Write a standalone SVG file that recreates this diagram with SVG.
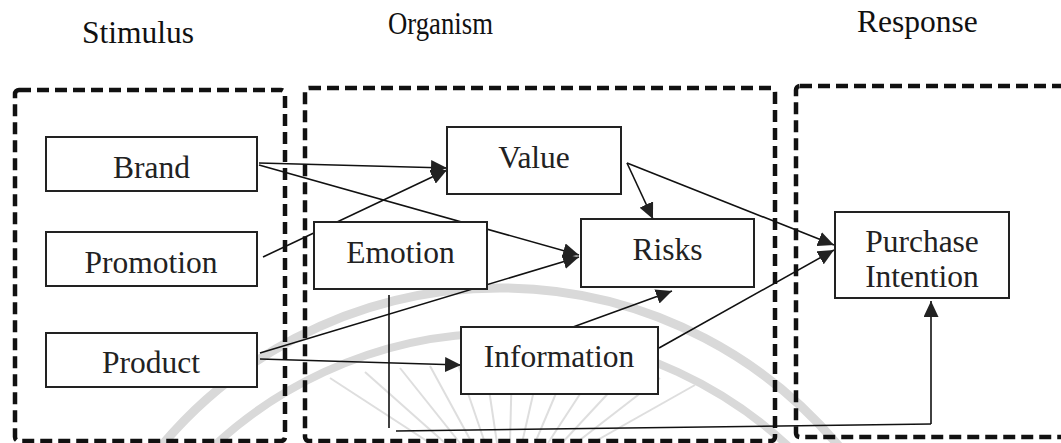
<svg xmlns="http://www.w3.org/2000/svg" width="1061" height="443" viewBox="0 0 1061 443">
  <style>
    .lbl { font-family: "Liberation Serif", "Times New Roman", serif; font-size: 31.5px; fill: #222; }
    .hdr { font-family: "Liberation Serif", "Times New Roman", serif; font-size: 31.5px; fill: #111; }
    .stage { fill: none; stroke: #111; stroke-width: 4.5; stroke-dasharray: 12 6; }
    .node rect { fill: #fff; stroke: #222; stroke-width: 2; }
    .conn line { stroke: #111; stroke-width: 1.6; fill: none; }
    .arr { marker-end: url(#ah); }
    .wm { fill: none; stroke: #d9d9d9; }
  </style>
  <defs>
    <marker id="ah" markerWidth="17" markerHeight="15" refX="16" refY="7.5" orient="auto" markerUnits="userSpaceOnUse">
      <path d="M0,0 L16,7.5 L0,15 z" fill="#222"/>
    </marker>
  </defs>

  <rect width="1061" height="443" fill="#fff"/>

  <!-- faint background emblem -->
  <g id="emblem">
    <path class="wm" stroke-width="9" d="M 150 460 A 442 442 0 0 1 850 460"/>
    <path class="wm" stroke-width="8" d="M 190 470 A 422 422 0 0 1 812 470"/>
    <g stroke="#dedede" stroke-width="2">
      <line x1="330" y1="378" x2="430" y2="443"/>
      <line x1="365" y1="372" x2="445" y2="443"/>
      <line x1="400" y1="368" x2="460" y2="443"/>
      <line x1="430" y1="366" x2="472" y2="443"/>
      <line x1="458" y1="364" x2="485" y2="443"/>
      <line x1="485" y1="363" x2="497" y2="443"/>
      <line x1="512" y1="363" x2="510" y2="443"/>
      <line x1="540" y1="364" x2="522" y2="443"/>
      <line x1="568" y1="365" x2="535" y2="443"/>
      <line x1="597" y1="368" x2="548" y2="443"/>
      <line x1="628" y1="372" x2="562" y2="443"/>
      <line x1="660" y1="378" x2="576" y2="443"/>
      <line x1="695" y1="385" x2="592" y2="443"/>
    </g>
  </g>

  <!-- stage headings -->
  <g id="headings">
    <text class="hdr" x="82" y="43">Stimulus</text>
    <text class="hdr" x="388" y="34" font-size="30" textLength="105" lengthAdjust="spacingAndGlyphs">Organism</text>
    <text class="hdr" x="857" y="32">Response</text>
  </g>

  <!-- stage frames -->
  <g id="stages">
    <rect class="stage" x="15" y="90" width="270" height="351" rx="4"/>
    <rect class="stage" x="305" y="88" width="470" height="353" rx="4"/>
    <rect class="stage" x="796" y="86" width="280" height="351" rx="4"/>
  </g>

  <!-- connectors -->
  <g id="connectors" class="conn">
    <line class="arr" x1="259" y1="163" x2="447" y2="168"/>
    <line class="arr" x1="259" y1="165" x2="579" y2="255"/>
    <line class="arr" x1="263" y1="257" x2="447" y2="170"/>
    <line class="arr" x1="260" y1="353" x2="579" y2="257"/>
    <line class="arr" x1="260" y1="359" x2="461" y2="365"/>
    <line class="arr" x1="627" y1="163" x2="653" y2="219"/>
    <line class="arr" x1="627" y1="163" x2="834" y2="245"/>
    <line class="arr" x1="659" y1="348" x2="834" y2="250"/>
    <line class="arr" x1="573" y1="327" x2="672" y2="291"/>
    <line x1="389" y1="295" x2="389" y2="428"/>
    <line x1="396" y1="431" x2="931" y2="424"/>
    <line class="arr" x1="931" y1="424" x2="931" y2="301"/>
  </g>

  <!-- nodes -->
  <g id="brand" class="node">
    <rect x="46" y="137" width="211" height="54"/>
    <text class="lbl" x="151.5" y="178" text-anchor="middle">Brand</text>
  </g>
  <g id="promotion" class="node">
    <rect x="46" y="232" width="211" height="54"/>
    <text class="lbl" x="151" y="273" text-anchor="middle">Promotion</text>
  </g>
  <g id="product" class="node">
    <rect x="46" y="333" width="211" height="54"/>
    <text class="lbl" x="151" y="373" text-anchor="middle">Product</text>
  </g>
  <g id="value" class="node">
    <rect x="447" y="127" width="174" height="67"/>
    <text class="lbl" x="534" y="168" text-anchor="middle">Value</text>
  </g>
  <g id="emotion" class="node">
    <rect x="314" y="222" width="173" height="67"/>
    <text class="lbl" x="400.5" y="263" text-anchor="middle">Emotion</text>
  </g>
  <g id="risks" class="node">
    <rect x="581" y="219" width="173" height="68"/>
    <text class="lbl" x="667.5" y="260" text-anchor="middle">Risks</text>
  </g>
  <g id="information" class="node">
    <rect x="461" y="327" width="197" height="67"/>
    <text class="lbl" x="559" y="367" text-anchor="middle">Information</text>
  </g>
  <g id="purchase-intention" class="node">
    <rect x="835" y="212" width="174" height="86"/>
    <text class="lbl" x="922" y="252" text-anchor="middle">Purchase</text>
    <text class="lbl" x="922" y="287" text-anchor="middle">Intention</text>
  </g>
</svg>
